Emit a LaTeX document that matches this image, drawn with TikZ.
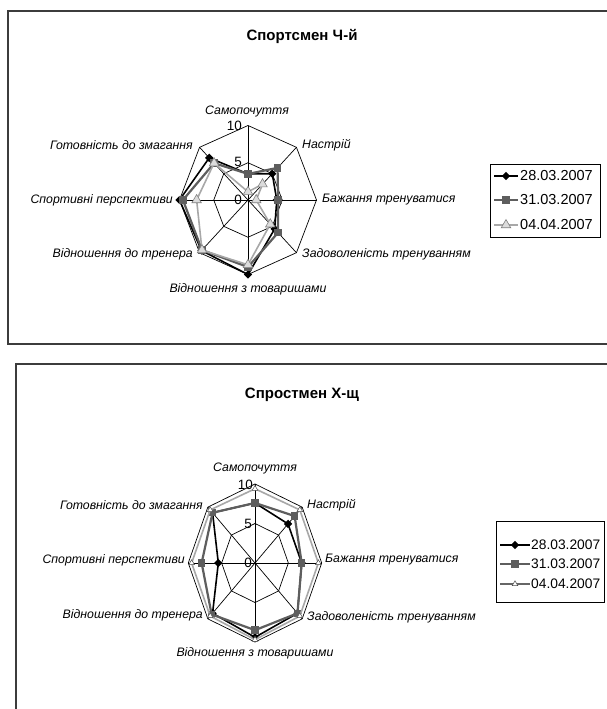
\documentclass[tikz,border=0pt]{standalone}
\usepackage{fontspec}
\setmainfont{Liberation Sans}
\usetikzlibrary{shapes.geometric}
\definecolor{frm}{HTML}{3C3C3C}
\definecolor{ctwo}{HTML}{5E5E5E}
\definecolor{cthree}{HTML}{A8A8A8}
\definecolor{tfill}{HTML}{DCDCDC}
\tikzset{
  axlab/.style={font=\itshape\fontsize{12.3}{13}\selectfont, inner sep=0pt},
  ticklab/.style={font=\fontsize{13.5}{14}\selectfont, inner sep=0pt, anchor=east},
  ttl/.style={font=\bfseries\fontsize{15}{16}\selectfont, inner sep=0pt},
  leglab/.style={font=\fontsize{14.5}{15}\selectfont, inner sep=0pt, anchor=west},
  leglabsmall/.style={font=\fontsize{13.8}{15}\selectfont, inner sep=0pt, anchor=west},
  gridln/.style={line width=0.7pt, black},
  frame/.style={line width=1.8pt, frm},
  legbox/.style={line width=0.9pt, black},
  sone/.style={line width=1.6pt, black, line join=round},
  stwo/.style={line width=2.2pt, ctwo, line join=round},
  sthree/.style={line width=1.6pt, cthree, line join=round},
  mone/.style={diamond, fill=black, minimum size=8.5pt, inner sep=0pt},
  mtwo/.style={rectangle, fill=ctwo, minimum size=7.5pt, inner sep=0pt},
  mthree/.style={regular polygon, regular polygon sides=3, draw=gray, fill=tfill, line width=0.6pt, minimum size=11pt, inner sep=0pt},
  mthreesmall/.style={regular polygon, regular polygon sides=3, draw=black!70, fill=white, line width=0.5pt, minimum size=6.5pt, inner sep=0pt},
}
\newcommand{\radargrid}{%
  \foreach \a in {90,45,0,-45,-90,-135,180,135} \draw[gridln] (0,0) -- (\a:10);
  \foreach \r in {5,10} \draw[gridln] (90:\r) -- (45:\r) -- (0:\r) -- (-45:\r) -- (-90:\r) -- (-135:\r) -- (180:\r) -- (135:\r) -- cycle;
}
\begin{document}
\begin{tikzpicture}[x=1pt,y=-1pt]
\useasboundingbox (0,0) rectangle (607,709);
\fill[white] (0,0) rectangle (607,709);

% ---------- frames ----------
\draw[frame] (607,11) -- (8,11) -- (8,344) -- (607,344);
\draw[frame] (607,364) -- (16,364) -- (16,709);

% ---------- top chart ----------
\node[ttl] (titleA) at (302,36) {Спортсмен Ч-й};
\begin{scope}[shift={(248,200)}, x={(6.85pt,0pt)}, y={(0pt,7.45pt)}]
  \radargrid
  \draw[sone] (90:3.5) -- (45:5) -- (0:4.2) -- (-45:5.5) -- (-90:10) -- (-135:9.6) -- (180:10) -- (135:8) -- cycle;
  \foreach \a/\v [count=\i] in {90/3.5,45/5,0/4.2,-45/5.5,-90/10,-135/9.6,180/10,135/8} \node[mone] (aone\i) at (\a:\v) {};
  \draw[stwo] (90:3.5) -- (45:6.1) -- (0:4.4) -- (-45:6.2) -- (-90:9) -- (-135:9.5) -- (180:9.5) -- (135:7) -- cycle;
  \foreach \a/\v [count=\i] in {90/3.5,45/6.1,0/4.4,-45/6.2,-90/9,-135/9.5,180/9.5,135/7} \node[mtwo] (atwo\i) at (\a:\v) {};
  \draw[sthree] (90:1.1) -- (45:3) -- (0:1.2) -- (-45:4.6) -- (-90:8.7) -- (-135:9.5) -- (180:7.5) -- (135:7) -- cycle;
  \foreach \a/\v [count=\i] in {90/1.1,45/3,0/1.2,-45/4.6,-90/8.7,-135/9.5,180/7.5,135/7} \node[mthree] (athree\i) at (\a:\v) {};
\end{scope}
\node[ticklab] (atick10) at (242,126) {10};
\node[ticklab] (atick5) at (242,162) {5};
\node[ticklab] (atick0) at (242,200) {0};
\node[axlab] (alab1) at (247,111) {Самопочуття};
\node[axlab, anchor=west] (alab2) at (302,145) {Настрій};
\node[axlab, anchor=west] (alab3) at (322,200) {Бажання тренуватися};
\node[axlab, anchor=west] (alab4) at (302,254) {Задоволеність тренуванням};
\node[axlab] (alab5) at (248,289) {Відношення з товаришами};
\node[axlab, anchor=east] (alab6) at (193,254) {Відношення до тренера};
\node[axlab, anchor=east] (alab7) at (173,200) {Спортивні перспективи};
\node[axlab, anchor=east] (alab8) at (193,145) {Готовність до змагання};
% legend top
\draw[legbox] (490,164) rectangle (600,237);
\coordinate (alegAl) at (494,176); \coordinate (alegAr) at (518,176);
\coordinate (alegBl) at (494,200); \coordinate (alegBr) at (518,200);
\coordinate (alegCl) at (494,225); \coordinate (alegCr) at (518,225);
\draw[sone] (alegAl) -- (alegAr); \node[mone] (alegmA) at (506,176) {};
\draw[stwo] (alegBl) -- (alegBr); \node[mtwo] (alegmB) at (506,200) {};
\draw[sthree] (alegCl) -- (alegCr); \node[mthree] (alegmC) at (506,225) {};
\node[leglab] (alegtA) at (520,176) {28.03.2007};
\node[leglab] (alegtB) at (520,200) {31.03.2007};
\node[leglab] (alegtC) at (520,225) {04.04.2007};

% ---------- bottom chart ----------
\node[ttl] (titleB) at (302,395) {Спростмен Х-щ};
\begin{scope}[shift={(255,563)}, x={(6.67pt,0pt)}, y={(0pt,7.9pt)}]
  \radargrid
  \draw[sone] (90:7.6) -- (45:7) -- (0:7) -- (-45:9) -- (-90:9.4) -- (-135:9) -- (180:5.5) -- (135:9) -- cycle;
  \foreach \a/\v [count=\i] in {90/7.6,45/7,0/7,-45/9,-90/9.4,-135/9,180/5.5,135/9} \node[mone] (bone\i) at (\a:\v) {};
  \draw[stwo] (90:7.6) -- (45:8.4) -- (0:7) -- (-45:9) -- (-90:8.5) -- (-135:9.2) -- (180:8) -- (135:9) -- cycle;
  \foreach \a/\v [count=\i] in {90/7.6,45/8.4,0/7,-45/9,-90/8.5,-135/9.2,180/8,135/9} \node[mtwo] (btwo\i) at (\a:\v) {};
  \draw[sthree] (90:9.4) -- (45:9.5) -- (0:9.5) -- (-45:9.5) -- (-90:9.7) -- (-135:9.5) -- (180:9.5) -- (135:9.5) -- cycle;
  \foreach \a/\v [count=\i] in {90/9.4,45/9.5,0/9.5,-45/9.5,-90/9.7,-135/9.5,180/9.5,135/9.5} \node[mthreesmall] (bthree\i) at (\a:\v) {};
\end{scope}
\node[ticklab] (btick10) at (253,485) {10};
\node[ticklab] (btick5) at (252,524) {5};
\node[ticklab] (btick0) at (252,563) {0};
\node[axlab] (blab1) at (255,468) {Самопочуття};
\node[axlab, anchor=west] (blab2) at (307,505) {Настрій};
\node[axlab, anchor=west] (blab3) at (325,560) {Бажання тренуватися};
\node[axlab, anchor=west] (blab4) at (307,617) {Задоволеність тренуванням};
\node[axlab] (blab5) at (255,653) {Відношення з товаришами};
\node[axlab, anchor=east] (blab6) at (203,615) {Відношення до тренера};
\node[axlab, anchor=east] (blab7) at (185,560) {Спортивні перспективи};
\node[axlab, anchor=east] (blab8) at (203,505) {Готовність до змагання};
% legend bottom
\draw[legbox] (496,521) rectangle (604,602);
\coordinate (blegAl) at (500,545); \coordinate (blegAr) at (530,545);
\coordinate (blegBl) at (500,564); \coordinate (blegBr) at (530,564);
\coordinate (blegCl) at (500,584); \coordinate (blegCr) at (530,584);
\draw[sone] (blegAl) -- (blegAr); \node[mone] (blegmA) at (515,545) {};
\draw[stwo] (blegBl) -- (blegBr); \node[mtwo] (blegmB) at (515,564) {};
\draw[line width=1.2pt, black!60] (blegCl) -- (blegCr); \node[mthreesmall] (blegmC) at (515,584) {};
\node[leglabsmall] (blegtA) at (531,545) {28.03.2007};
\node[leglabsmall] (blegtB) at (531,564) {31.03.2007};
\node[leglabsmall] (blegtC) at (531,584) {04.04.2007};
\end{tikzpicture}
\end{document}
